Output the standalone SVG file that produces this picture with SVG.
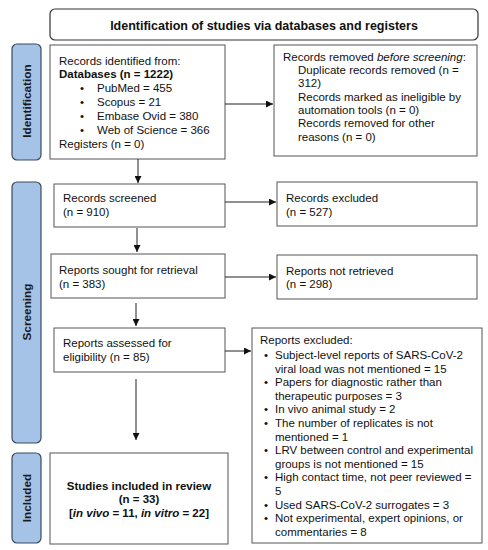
<svg xmlns="http://www.w3.org/2000/svg" width="488" height="550" viewBox="0 0 488 550">
<style>
.box{fill:#fff;stroke:#555;stroke-width:1}
.side{fill:#a5c3e6;stroke:#3a4a5e;stroke-width:1.2}
.t{font-family:"Liberation Sans",Arial,sans-serif;font-size:11.5px;fill:#111}
.b{font-weight:bold}
.ttl{font-size:12.5px}
.st{font-family:"Liberation Sans",Arial,sans-serif;font-size:11.8px;font-weight:bold;fill:#1a1a1a}
.c{fill:none;stroke:#222;stroke-width:1}
</style>
<defs>
<marker id="ah" viewBox="0 0 10 10" refX="10" refY="5" markerWidth="7" markerHeight="7" markerUnits="userSpaceOnUse" orient="auto">
<path d="M0,0 L10,5 L0,10 z" fill="#111"/>
</marker>
</defs>
<rect width="488" height="550" fill="#fff"/>
<g id="title">
<rect x="50" y="9" width="428" height="31" rx="5" fill="#fff" stroke="#333" stroke-width="1.2"/>
<text class="t b ttl" x="264" y="29.5" text-anchor="middle">Identification of studies via databases and registers</text>
</g>
<g id="lbl-identification">
<rect class="side" x="12" y="44" width="29" height="116" rx="5"/>
<text class="st" transform="translate(31,101) rotate(-90)" text-anchor="middle">Identification</text>
</g>
<g id="lbl-screening">
<rect class="side" x="12" y="182" width="29" height="261" rx="5"/>
<text class="st" transform="translate(31,312) rotate(-90)" text-anchor="middle">Screening</text>
</g>
<g id="lbl-included">
<rect class="side" x="12" y="453" width="29" height="90" rx="5"/>
<text class="st" transform="translate(31,498) rotate(-90)" text-anchor="middle">Included</text>
</g>
<g id="identified">
<rect class="box" x="50" y="45" width="175" height="114"/>
<text class="t" x="59" y="65">Records identified from:</text>
<text class="t b" x="59" y="78">Databases (n = 1222)</text>
<text class="t" x="80" y="92">•</text><text class="t" x="97" y="92">PubMed = 455</text>
<text class="t" x="80" y="106">•</text><text class="t" x="97" y="106">Scopus = 21</text>
<text class="t" x="80" y="120">•</text><text class="t" x="97" y="120">Embase Ovid = 380</text>
<text class="t" x="80" y="134">•</text><text class="t" x="97" y="134">Web of Science = 366</text>
<text class="t" x="59" y="148">Registers (n = 0)</text>
</g>
<g id="removed">
<rect class="box" x="274" y="45" width="203" height="111"/>
<text class="t" x="283" y="61">Records removed <tspan font-style="italic">before screening</tspan>:</text>
<text class="t" x="298" y="74">Duplicate records removed (n =</text>
<text class="t" x="298" y="87">312)</text>
<text class="t" x="298" y="101">Records marked as ineligible by</text>
<text class="t" x="298" y="114">automation tools (n = 0)</text>
<text class="t" x="298" y="127">Records removed for other</text>
<text class="t" x="298" y="141">reasons (n = 0)</text>
</g>
<g id="screened">
<rect class="box" x="54" y="184" width="171" height="43"/>
<text class="t" x="63" y="202">Records screened</text>
<text class="t" x="63" y="216">(n = 910)</text>
</g>
<g id="excluded1">
<rect class="box" x="277" y="182" width="200" height="44"/>
<text class="t" x="286" y="202">Records excluded</text>
<text class="t" x="286" y="216">(n = 527)</text>
</g>
<g id="sought">
<rect class="box" x="51" y="254" width="174" height="44"/>
<text class="t" x="59" y="274">Reports sought for retrieval</text>
<text class="t" x="59" y="288">(n = 383)</text>
</g>
<g id="notretrieved">
<rect class="box" x="277" y="255" width="200" height="44"/>
<text class="t" x="286" y="275">Reports not retrieved</text>
<text class="t" x="286" y="288">(n = 298)</text>
</g>
<g id="assessed">
<rect class="box" x="54" y="328" width="171" height="44"/>
<text class="t" x="63" y="347">Reports assessed for</text>
<text class="t" x="63" y="361">eligibility (n = 85)</text>
</g>
<g id="excluded2">
<rect class="box" x="252" y="328" width="230" height="215"/>
<text class="t" x="260" y="344">Reports excluded:</text>
<text class="t" x="264" y="359">•</text><text class="t" x="275" y="359">Subject-level reports of SARS-CoV-2</text>
<text class="t" x="275" y="372.6">viral load was not mentioned = 15</text>
<text class="t" x="264" y="386.2">•</text><text class="t" x="275" y="386.2">Papers for diagnostic rather than</text>
<text class="t" x="275" y="399.8">therapeutic purposes = 3</text>
<text class="t" x="264" y="413.4">•</text><text class="t" x="275" y="413.4">In vivo animal study = 2</text>
<text class="t" x="264" y="427">•</text><text class="t" x="275" y="427">The number of replicates is not</text>
<text class="t" x="275" y="440.6">mentioned = 1</text>
<text class="t" x="264" y="454.2">•</text><text class="t" x="275" y="454.2">LRV between control and experimental</text>
<text class="t" x="275" y="467.8">groups is not mentioned = 15</text>
<text class="t" x="264" y="481.4">•</text><text class="t" x="275" y="481.4">High contact time, not peer reviewed =</text>
<text class="t" x="275" y="495">5</text>
<text class="t" x="264" y="508.6">•</text><text class="t" x="275" y="508.6">Used SARS-CoV-2 surrogates = 3</text>
<text class="t" x="264" y="522.2">•</text><text class="t" x="275" y="522.2">Not experimental, expert opinions, or</text>
<text class="t" x="275" y="535.8">commentaries = 8</text>
</g>
<g id="included">
<rect class="box" x="50" y="453" width="178" height="91"/>
<text class="t b" x="139" y="490" text-anchor="middle">Studies included in review</text>
<text class="t b" x="139" y="503" text-anchor="middle">(n = 33)</text>
<text class="t b" x="139" y="517" text-anchor="middle">[<tspan font-style="italic">in vivo</tspan> = 11, <tspan font-style="italic">in vitro</tspan> = 22]</text>
</g>
<g id="connectors">
<line class="c" x1="225" y1="104" x2="273" y2="104" marker-end="url(#ah)"/>
<line class="c" x1="138" y1="159" x2="138" y2="183" marker-end="url(#ah)"/>
<line class="c" x1="225" y1="202" x2="276" y2="202" marker-end="url(#ah)"/>
<line class="c" x1="137" y1="228" x2="137" y2="252" marker-end="url(#ah)"/>
<line class="c" x1="225" y1="277" x2="276" y2="277" marker-end="url(#ah)"/>
<line class="c" x1="136" y1="303" x2="136" y2="326" marker-end="url(#ah)"/>
<line class="c" x1="225" y1="351" x2="251" y2="351" marker-end="url(#ah)"/>
<line class="c" x1="136" y1="379" x2="136" y2="440" marker-end="url(#ah)"/>
</g>
</svg>
